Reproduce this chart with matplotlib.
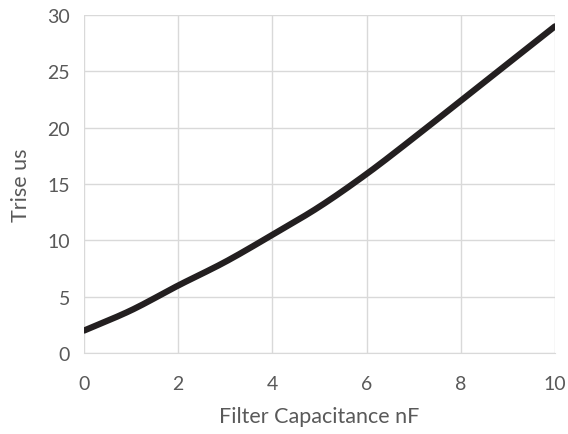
import numpy as np
import matplotlib
matplotlib.use('Agg')
import matplotlib.pyplot as plt

# Data
cap_nf = [0, 1, 2, 3, 4, 5, 6, 7, 8, 9, 10]
trise_us = [2.0, 3.8, 6.0, 8.1, 10.5, 13.0, 15.9, 19.1, 22.4, 25.7, 29.0]
x_ticks = [0, 2, 4, 6, 8, 10]
y_ticks = [0, 5, 10, 15, 20, 25, 30]


def smooth_line(x, y, n=20):
    # Catmull-Rom curve through the points, like Excel's smoothed line
    x = np.asarray(x, float)
    y = np.asarray(y, float)
    px = np.concatenate([[2 * x[0] - x[1]], x, [2 * x[-1] - x[-2]]])
    py = np.concatenate([[2 * y[0] - y[1]], y, [2 * y[-1] - y[-2]]])
    t = np.linspace(0, 1, n, endpoint=False)
    xs, ys = [], []
    for i in range(1, len(px) - 2):
        for p, out in ((px, xs), (py, ys)):
            p0, p1, p2, p3 = p[i - 1], p[i], p[i + 1], p[i + 2]
            out.extend(0.5 * (2 * p1 + (-p0 + p2) * t
                              + (2 * p0 - 5 * p1 + 4 * p2 - p3) * t ** 2
                              + (-p0 + 3 * p1 - 3 * p2 + p3) * t ** 3))
    xs.append(x[-1])
    ys.append(y[-1])
    return xs, ys


plt.rcParams['font.family'] = ['Lato', 'DejaVu Sans']

fig = plt.figure(figsize=(5.68, 4.35), dpi=100)
ax = fig.add_axes([0.148, 0.186, 0.829, 0.777])

sx, sy = smooth_line(cap_nf, trise_us)
ax.plot(sx, sy, color='#231f20', lw=4.5, solid_capstyle='round', zorder=3)

ax.set_xlim(0, 10)
ax.set_ylim(0, 30)
ax.set_xticks(x_ticks)
ax.set_yticks(y_ticks)
ax.grid(True, color='#d9d9d9', lw=1.0)
ax.set_axisbelow(True)

for side in ['top', 'right', 'left']:
    ax.spines[side].set_visible(False)
ax.spines['bottom'].set_color('#d9d9d9')
ax.tick_params(length=0, labelsize=14, labelcolor='#595959')
ax.tick_params(axis='y', pad=10)
ax.tick_params(axis='x', pad=16)

ax.set_xlabel('Filter Capacitance nF', fontsize=15.5, color='#595959', labelpad=10)
ax.set_ylabel('Trise us', fontsize=15.5, color='#595959', labelpad=12)

fig.savefig('out.png', dpi=100)
